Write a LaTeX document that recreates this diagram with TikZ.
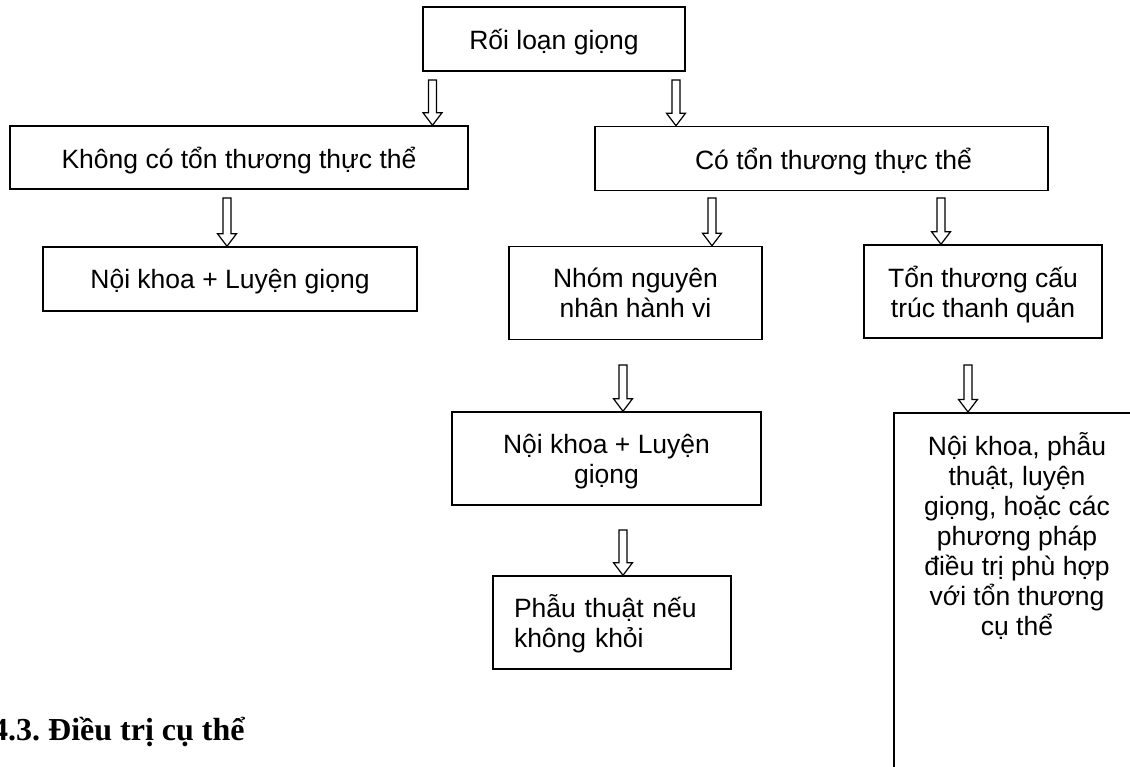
\documentclass[tikz,border=0pt]{standalone}
\usepackage{fontspec}
\setmainfont{Liberation Sans}
\newfontfamily\headfont{Liberation Serif}
\usetikzlibrary{calc}
\tikzset{
  box/.style={draw, line width=1.5pt, inner sep=0pt, align=center, text depth=0pt,
    font=\fontsize{26.5}{30}\selectfont},
  txt/.style={inner sep=0pt, font=\fontsize{26.5}{30}\selectfont},
  hollow/.style={draw, line width=1.2pt, fill=white, line join=miter},
}
\newcommand\hollowarrow[2]{%
  \draw[hollow] let \p1=(#1), \p2=(#2) in
    (\x1-4pt,\y1) -- (\x1-4pt,\y2+12.5pt) -- (\x1-9.5pt,\y2+12.5pt) -- (\x1,\y2)
    -- (\x1+9.5pt,\y2+12.5pt) -- (\x1+4pt,\y2+12.5pt) -- (\x1+4pt,\y1) -- cycle;}
\begin{document}
\begin{tikzpicture}[x=1pt,y=-1pt]
\useasboundingbox (0,0) rectangle (1130,767);
\clip (0,0) rectangle (1130,767);

\node[box, minimum width=262pt, minimum height=64pt] (top) at (554,39) {Rối loạn giọng};
\node[box, minimum width=458pt, minimum height=63pt] (khong) at (239,157.5) {Không có tổn thương thực thể};
\node[box, minimum width=453pt, minimum height=64pt] (co) at (821.5,158.5) {\hspace*{24pt}Có tổn thương thực thể};
\node[box, minimum width=374pt, minimum height=64pt] (noi1) at (230,279) {Nội khoa + Luyện giọng};
\node[box, minimum width=253pt, minimum height=93pt] (nhom) at (635.5,293) {Nhóm nguyên\\nhân hành vi};
\node[box, minimum width=238pt, minimum height=93pt] (ton) at (983,291.5) {Tổn thương cấu\\trúc thanh quản};
\node[box, minimum width=309pt, minimum height=93pt] (noi2) at (606.5,458.5) {Nội khoa + Luyện\\giọng};
\node[box, minimum width=238pt, minimum height=93pt, text width=196pt, inner xsep=21pt, align=left, text depth=32pt] (phau) at (612,622.5) {Phẫu thuật nếu\\không khỏi};
\node[box, anchor=north west, minimum width=248pt, minimum height=420pt] (big) at (893,412) {};
\node[txt, anchor=base] (bigtxt) at (1017,455) {\parbox[t]{240pt}{\centering Nội khoa, phẫu\\ thuật, luyện\\ giọng, hoặc các\\ phương pháp\\ điều trị phù hợp\\ với tổn thương\\ cụ thể}};

\node[anchor=base west, inner sep=0pt, font=\headfont\bfseries\fontsize{32}{36}\selectfont] (head) at (-8,740) {\frenchspacing 4.3. Điều trị cụ thể};

\coordinate (a1) at (432.5,80);
\coordinate (a2) at (676,80);
\coordinate (a3) at (227,198);
\coordinate (a4) at (712,198);
\coordinate (a5) at (941,198);
\coordinate (a6) at (623,365);
\coordinate (a7) at (968,365);
\coordinate (a8) at (623,530);

\hollowarrow{a1}{a1 |- khong.north}
\hollowarrow{a2}{a2 |- co.north}
\hollowarrow{a3}{a3 |- noi1.north}
\hollowarrow{a4}{a4 |- nhom.north}
\hollowarrow{a5}{a5 |- ton.north}
\hollowarrow{a6}{a6 |- noi2.north}
\hollowarrow{a7}{a7 |- big.north}
\hollowarrow{a8}{a8 |- phau.north}
\end{tikzpicture}
\end{document}
